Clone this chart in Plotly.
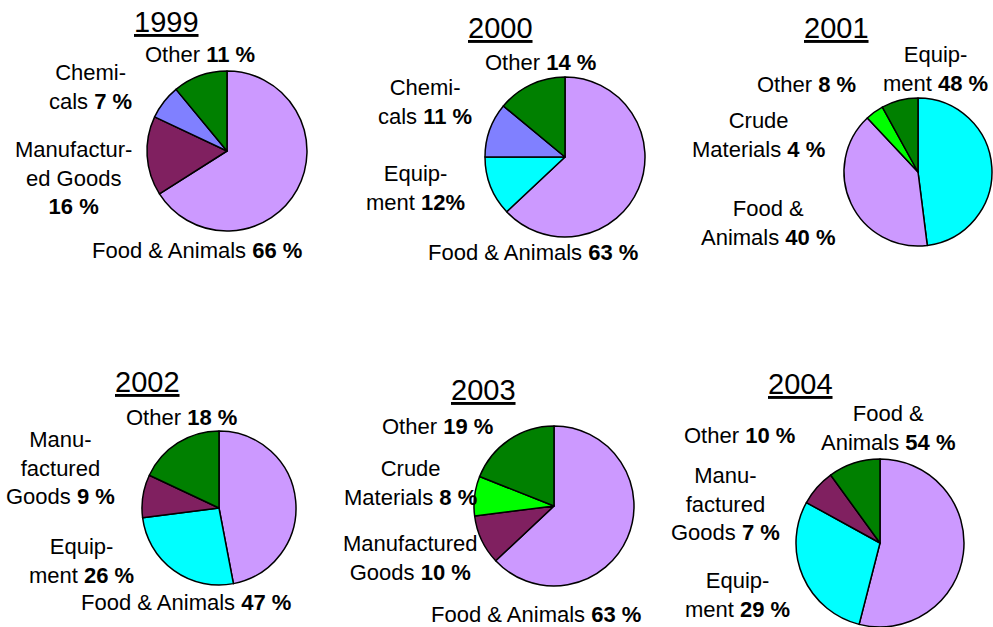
import plotly.graph_objects as go

# ---------------- data ----------------
years = ["1999", "2000", "2001", "2002", "2003", "2004"]

cats_1999 = ["Food & Animals", "Manufactured Goods", "Chemicals", "Other"]
vals_1999 = [66, 16, 7, 11]
text_1999 = ["Food & Animals", "Manufactur-<br>ed Goods<br>", "Chemi-<br>cals", "Other"]

cats_2000 = ["Food & Animals", "Equipment", "Chemicals", "Other"]
vals_2000 = [63, 12, 11, 14]
text_2000 = ["Food & Animals", "Equip-<br>ment", "Chemi-<br>cals", "Other"]

cats_2001 = ["Equipment", "Food & Animals", "Crude Materials", "Other"]
vals_2001 = [48, 40, 4, 8]
text_2001 = ["Equip-<br>ment", "Food &<br>Animals", "Crude<br>Materials", "Other"]

cats_2002 = ["Food & Animals", "Equipment", "Manufactured Goods", "Other"]
vals_2002 = [47, 26, 9, 18]
text_2002 = ["Food & Animals", "Equip-<br>ment", "Manu-<br>factured<br>Goods", "Other"]

cats_2003 = ["Food & Animals", "Manufactured Goods", "Crude Materials", "Other"]
vals_2003 = [63, 10, 8, 19]
text_2003 = ["Food & Animals", "Manufactured<br>Goods", "Crude<br>Materials", "Other"]

cats_2004 = ["Food & Animals", "Equipment", "Manufactured Goods", "Other"]
vals_2004 = [54, 29, 7, 10]
text_2004 = ["Food &<br>Animals", "Equip-<br>ment", "Manu-<br>factured<br>Goods", "Other"]

pct_sep_2000 = [" ", "", " ", " "]

all_cats = [cats_1999, cats_2000, cats_2001, cats_2002, cats_2003, cats_2004]
all_vals = [vals_1999, vals_2000, vals_2001, vals_2002, vals_2003, vals_2004]
all_text = [text_1999, text_2000, text_2001, text_2002, text_2003, text_2004]

# ---------------- styles / layout ----------------
W, H = 993, 627
FONT = "Arial, Liberation Sans, sans-serif"

colors = {
    "Food & Animals": "#CC99FF",
    "Manufactured Goods": "#802060",
    "Chemicals": "#8080FF",
    "Other": "#008000",
    "Equipment": "#00FFFF",
    "Crude Materials": "#00FF00",
}

# pie centres and radii in pixels
pie_geom = [(227, 151, 80), (565, 157, 80), (918, 172, 74),
            (219, 508, 77), (554, 506, 80), (880, 543, 84)]
# title centres in pixels
title_pos = [(166, 22), (500, 28), (836, 28), (147, 382), (483, 390), (800, 384)]
# label centres (pixels), in the order of each year's categories
label_pos = [
    [(197, 250), (73, 178), (90, 87), (200, 54)],
    [(533, 252), (415, 188), (425, 102), (540, 62)],
    [(935, 69), (768, 223), (758, 135), (806, 84)],
    [(186, 602), (81, 561), (60, 468), (181, 417)],
    [(536, 614), (410, 558), (410, 483), (437, 426)],
    [(888, 428), (737, 595), (725, 504), (739, 435)],
]


def px(x):
    return x / W


def py(y):
    return 1 - y / H


fig = go.Figure()
annotations = []

for i, year in enumerate(years):
    cx, cy, r = pie_geom[i]
    fig.add_trace(go.Pie(
        labels=all_cats[i],
        values=all_vals[i],
        sort=False,
        direction="clockwise",
        rotation=0,
        textinfo="none",
        hoverinfo="label+percent",
        showlegend=False,
        marker=dict(colors=[colors[c] for c in all_cats[i]],
                    line=dict(color="black", width=1.5)),
        domain=dict(x=[px(cx - r), px(cx + r)], y=[py(cy + r), py(cy - r)]),
    ))
    tx, ty = title_pos[i]
    annotations.append(dict(
        text=f"<u>{year}</u>", x=px(tx), y=py(ty), xref="paper", yref="paper",
        xanchor="center", yanchor="middle", showarrow=False,
        font=dict(family=FONT, size=29, color="black"),
    ))
    for j, lab in enumerate(all_text[i]):
        sep = pct_sep_2000[j] if year == "2000" else " "
        val = all_vals[i][j]
        if lab.endswith("<br>"):
            txt = f"{lab}<b>{val}{sep}%</b>"
        else:
            txt = f"{lab} <b>{val}{sep}%</b>"
        lx, ly = label_pos[i][j]
        annotations.append(dict(
            text=txt, x=px(lx), y=py(ly), xref="paper", yref="paper",
            xanchor="center", yanchor="middle", align="center", showarrow=False,
            font=dict(family=FONT, size=22, color="black"),
        ))

fig.update_layout(
    width=W, height=H,
    margin=dict(l=0, r=0, t=0, b=0),
    paper_bgcolor="white", plot_bgcolor="white",
    annotations=annotations,
)

fig.write_html(
    "out.html",
    config={"displayModeBar": False},
    post_script="document.body.style.margin='0';document.body.style.overflow='hidden';",
)
